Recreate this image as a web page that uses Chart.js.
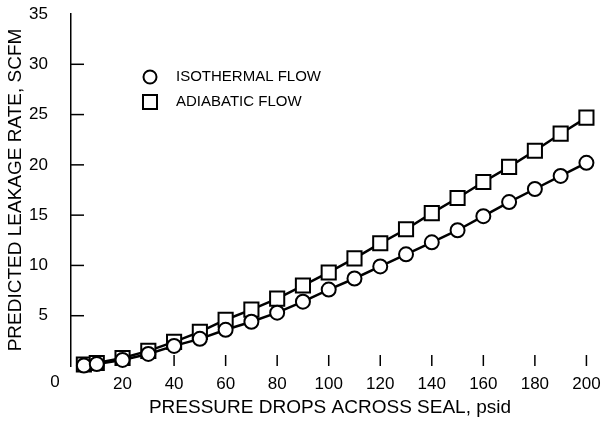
<!DOCTYPE html>
<html>
<head>
<meta charset="utf-8">
<script src="https://cdn.jsdelivr.net/npm/chart.js@4.4.0/dist/chart.umd.min.js"></script>
<style>
  html, body { margin: 0; padding: 0; background: #fff; overflow: hidden; }
  #wrap { width: 601px; height: 429px; }
</style>
</head>
<body>
<div id="wrap"><canvas id="leak"></canvas></div>
<script>
// pressure drop across seal, psid
const pressureDrop = [5, 10, 20, 30, 40, 50, 60, 70, 80, 90, 100, 110, 120, 130, 140, 150, 160, 170, 180, 190, 200];
// predicted leakage, SCFM
const isothermalFlow = [0.05, 0.2, 0.6, 1.2, 2.0, 2.7, 3.6, 4.4, 5.3, 6.4, 7.6, 8.7, 9.9, 11.1, 12.3, 13.5, 14.9, 16.3, 17.6, 18.9, 20.2];
const adiabaticFlow = [0.15, 0.3, 0.8, 1.5, 2.4, 3.4, 4.6, 5.6, 6.7, 8.0, 9.3, 10.7, 12.2, 13.6, 15.2, 16.7, 18.3, 19.8, 21.4, 23.1, 24.7];

const xTicks = [20, 40, 60, 80, 100, 120, 140, 160, 180, 200];
const yTicks = [5, 10, 15, 20, 25, 30, 35];

const ink = "#000";
const font = "'Liberation Sans', Arial, sans-serif";

// ticks point inward, "0" sits in the corner, legend inside the plot
const axisMarks = {
  id: "axisMarks",
  beforeDatasetsDraw(chart) {
    const { ctx, chartArea, scales: { x, y } } = chart;
    ctx.save();
    ctx.strokeStyle = ink;
    ctx.lineWidth = 1.5;
    x.ticks.forEach((t) => {
      const px = x.getPixelForValue(t.value);
      ctx.beginPath();
      ctx.moveTo(px, chartArea.bottom);
      ctx.lineTo(px, chartArea.bottom - 11);
      ctx.stroke();
    });
    y.ticks.forEach((t) => {
      if (t.value >= 35) return;
      const py = y.getPixelForValue(t.value);
      ctx.beginPath();
      ctx.moveTo(chartArea.left, py);
      ctx.lineTo(chartArea.left + 13, py);
      ctx.stroke();
    });
    ctx.restore();
  },
  afterDraw(chart) {
    const { ctx, chartArea, scales: { x } } = chart;
    ctx.save();
    ctx.fillStyle = ink;
    ctx.font = "17px " + font;
    ctx.textAlign = "center";
    ctx.textBaseline = "middle";
    ctx.fillText("0", x.getPixelForValue(0) - 16, chartArea.bottom + 16);

    ctx.strokeStyle = ink;
    ctx.lineWidth = 2;
    chart.data.datasets.forEach((ds, i) => {
      const cx = chartArea.left + 79;
      const cy = chartArea.top + 63 + i * 25;
      ctx.fillStyle = "#fff";
      ctx.beginPath();
      if (ds.pointStyle === "circle") {
        ctx.arc(cx, cy, 6.5, 0, Math.PI * 2);
      } else {
        ctx.rect(cx - 7, cy - 7, 14, 14);
      }
      ctx.fill();
      ctx.stroke();
      ctx.fillStyle = ink;
      ctx.textAlign = "left";
      ctx.font = "15px " + font;
      ctx.fillText(ds.label, cx + 26, cy);
    });
    ctx.restore();
  },
};

new Chart(document.getElementById("leak"), {
  type: "line",
  data: {
    labels: pressureDrop,
    datasets: [
      {
        label: "ISOTHERMAL FLOW",
        data: pressureDrop.map((p, i) => ({ x: p, y: isothermalFlow[i] })),
        borderColor: ink,
        borderWidth: 2.5,
        pointStyle: "circle",
        pointRadius: 7,
        pointBorderWidth: 2,
        pointBackgroundColor: "#fff",
        pointBorderColor: ink,
        tension: 0,
        clip: false,
      },
      {
        label: "ADIABATIC FLOW",
        data: pressureDrop.map((p, i) => ({ x: p, y: adiabaticFlow[i] })),
        borderColor: ink,
        borderWidth: 2.5,
        pointStyle: "rect",
        pointRadius: 10,
        pointBorderWidth: 2,
        pointBackgroundColor: "#fff",
        pointBorderColor: ink,
        tension: 0,
        clip: false,
      },
    ],
  },
  options: {
    responsive: true,
    maintainAspectRatio: false,
    animation: false,
    layout: {
      padding: { top: 14, right: 5, bottom: 0, left: 0 },
    },
    scales: {
      x: {
        type: "linear",
        min: 0,
        max: 201,
        afterBuildTicks: (scale) => {
          scale.ticks = xTicks.map((v) => ({ value: v }));
        },
        afterFit: (scale) => {
          scale.height = 63;
          scale.paddingLeft = 0;
          scale.paddingRight = 0;
        },
        grid: { display: false, drawTicks: false },
        border: { display: false },
        ticks: {
          color: ink,
          padding: 8,
          maxRotation: 0,
          autoSkip: false,
          font: { family: font, size: 17 },
        },
        title: {
          display: true,
          text: "PRESSURE DROPS ACROSS SEAL, psid",
          color: ink,
          font: { family: font, size: 19 },
          padding: { top: 0, bottom: 10 },
        },
      },
      y: {
        min: 0,
        max: 35,
        afterBuildTicks: (scale) => {
          scale.ticks = yTicks.map((v) => ({ value: v }));
        },
        afterFit: (scale) => {
          scale.width = 71;
          scale.paddingTop = 0;
          scale.paddingBottom = 0;
        },
        grid: { display: false, drawTicks: false },
        border: { display: true, color: ink, width: 1.5 },
        ticks: {
          color: ink,
          padding: 23,
          font: { family: font, size: 17 },
        },
        title: {
          display: true,
          text: "PREDICTED LEAKAGE RATE, SCFM",
          color: ink,
          font: { family: font, size: 19 },
          padding: { top: 4, bottom: 0 },
        },
      },
    },
    plugins: {
      legend: { display: false },
      tooltip: { enabled: false },
    },
  },
  plugins: [axisMarks],
});
</script>
</body>
</html>
